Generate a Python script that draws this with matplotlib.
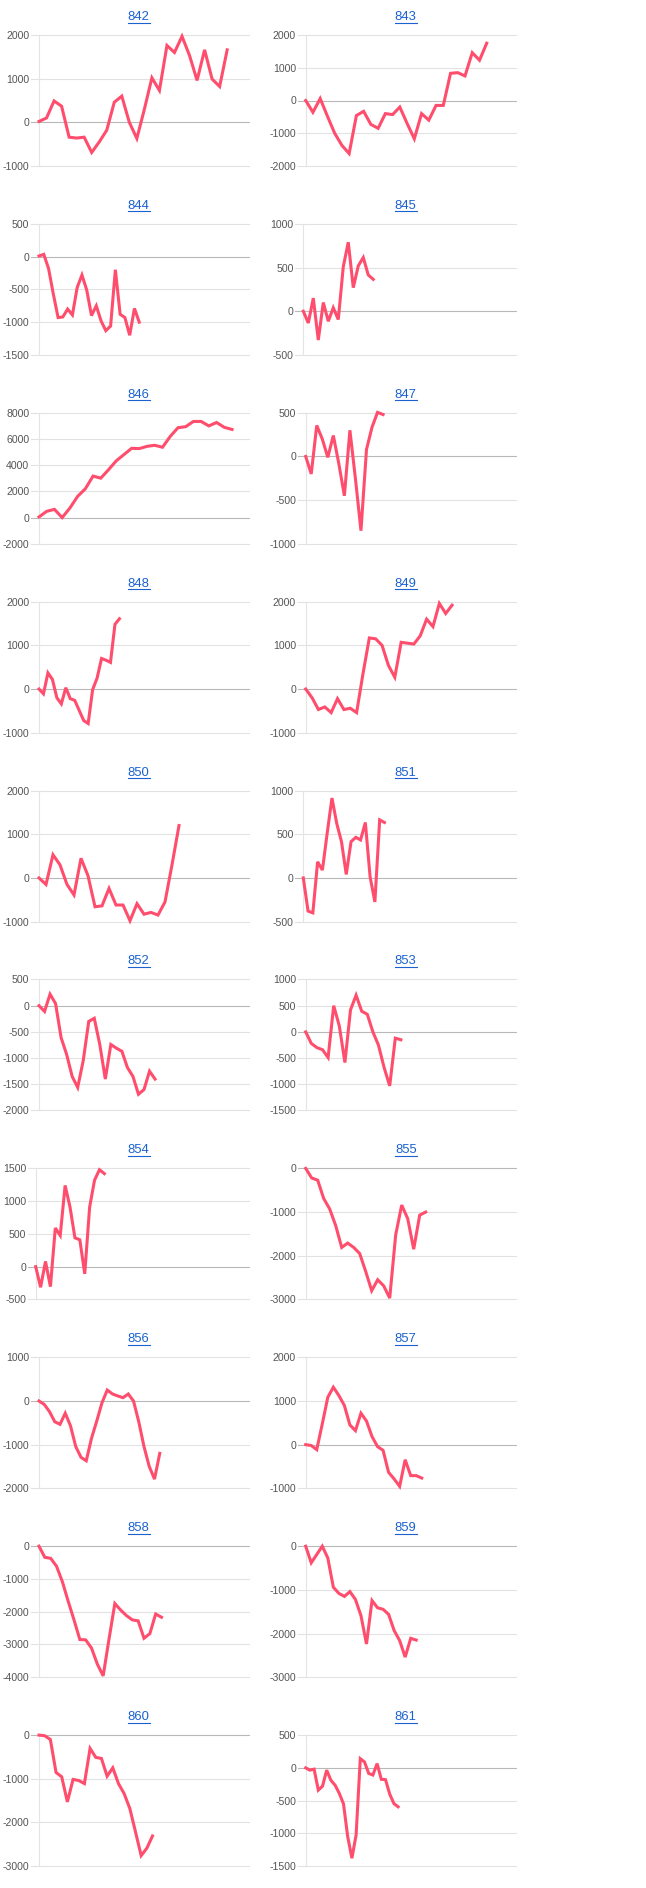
import matplotlib
matplotlib.use('Agg')
import matplotlib.pyplot as plt
from matplotlib.lines import Line2D

# panel titles
titles = ['842', '843', '844', '845', '846', '847', '848', '849', '850', '851',
          '852', '853', '854', '855', '856', '857', '858', '859', '860', '861']

# series values
s842 = [20, 100, 490, 370, -340, -360, -340, -690, -450, -180, 460, 600, 0, -370,
        300, 1020, 730, 1760, 1600, 1970, 1530, 960, 1660, 990, 820, 1660]
s843 = [0, -360, 60, -480, -1000, -1370, -1620, -460, -330, -730, -850, -400, -430,
        -200, -700, -1170, -400, -600, -150, -150, 830, 850, 750, 1460, 1230, 1750]
s844 = [10, 35, -180, -570, -930, -920, -800, -890, -470, -280, -510, -900, -750,
        -980, -1130, -1060, -200, -880, -930, -1200, -790, -1000]
s845 = [0, -135, 150, -330, 100, -115, 40, -95, 510, 790, 270, 520, 615, 415, 365]
s846 = [50, 480, 630, 0, 730, 1620, 2200, 3170, 3010, 3650, 4330, 4810, 5290, 5270,
        5440, 5520, 5370, 6200, 6860, 6940, 7340, 7340, 7000, 7260, 6890, 6730]
s847 = [0, -200, 355, 200, -10, 240, -85, -450, 300, -255, -850, 80, 335, 505, 480]
s848 = [0, -110, 370, 220, -200, -340, 30, -220, -260, -490, -720, -790, -15, 250,
        700, 660, 610, 1480, 1610]
s849 = [0, -200, -470, -410, -540, -220, -470, -440, -540, 350, 1170, 1150, 1000,
        540, 270, 1070, 1050, 1030, 1220, 1600, 1430, 1960, 1730, 1920]
s850 = [0, -150, 530, 300, -150, -390, 450, 50, -660, -640, -240, -620, -620, -980,
        -590, -830, -790, -850, -550, 300, 1200]
s851 = [0, -380, -400, 185, 90, 510, 915, 625, 415, 40, 415, 465, 435, 635, 10,
        -275, 665, 635]
s852 = [0, -110, 220, 40, -610, -930, -1350, -1560, -1050, -300, -240, -740, -1400,
        -740, -810, -870, -1180, -1350, -1690, -1600, -1250, -1400]
s853 = [0, -220, -300, -340, -490, 500, 115, -585, 420, 700, 395, 335, 0, -255,
        -680, -1030, -120, -150]
s854 = [0, -315, 80, -305, 590, 475, 1240, 910, 440, 410, -110, 910, 1320, 1480, 1420]
s855 = [0, -220, -270, -690, -930, -1310, -1810, -1710, -1810, -1950, -2360, -2800,
        -2550, -2690, -2970, -1520, -840, -1150, -1850, -1070, -1000]
s856 = [0, -80, -245, -475, -535, -280, -570, -1045, -1290, -1370, -855, -460, -40,
        250, 160, 115, 75, 160, 0, -475, -1045, -1500, -1790, -1200]
s857 = [0, -20, -115, 475, 1085, 1315, 1125, 895, 450, 320, 720, 540, 185, -45,
        -130, -635, -785, -955, -345, -710, -710, -765]
s858 = [0, -340, -370, -610, -1080, -1680, -2250, -2850, -2860, -3110, -3600, -3960,
        -2840, -1750, -1950, -2120, -2250, -2280, -2810, -2670, -2070, -2170]
s859 = [0, -380, -190, 0, -270, -940, -1080, -1150, -1040, -1220, -1590, -2240,
        -1245, -1410, -1445, -1560, -1930, -2160, -2540, -2110, -2150]
s860 = [0, -15, -100, -855, -955, -1530, -1015, -1040, -1110, -305, -510, -535, -940,
        -750, -1110, -1340, -1680, -2215, -2760, -2590, -2310]
s861 = [0, -35, -20, -340, -280, -35, -190, -265, -390, -550, -1050, -1380, -1025,
        140, 90, -85, -110, 65, -175, -180, -400, -545, -595]

series = [s842, s843, s844, s845, s846, s847, s848, s849, s850, s851,
          s852, s853, s854, s855, s856, s857, s858, s859, s860, s861]

# y axis: (min, max, step)
y_axes = [(-1000, 2000, 1000), (-2000, 2000, 1000), (-1500, 500, 500), (-500, 1000, 500),
          (-2000, 8000, 2000), (-1000, 500, 500), (-1000, 2000, 1000), (-1000, 2000, 1000),
          (-1000, 2000, 1000), (-500, 1000, 500), (-2000, 500, 500), (-1500, 1000, 500),
          (-500, 1500, 500), (-3000, 0, 1000), (-2000, 1000, 1000), (-1000, 2000, 1000),
          (-4000, 0, 1000), (-3000, 0, 1000), (-3000, 0, 1000), (-1500, 500, 500)]

# how many steps the horizontal axis holds in each panel
spans = [27.9, 29.0, 44, 42.5, 27.2, 38, 47, 33, 30, 44.5,
         38, 37.5, 43.5, 35, 40, 38, 36, 38, 37, 50]

W, H = 646, 1888
line_color = '#ff4d6d'
link_color = '#1a62d0'

fig = plt.figure(figsize=(W / 100, H / 100), dpi=100)
fig.patch.set_facecolor('white')

left_edge = {0: 39.0, 1: 305.7}
right_edge = {0: 249.0, 1: 515.7}
special_left = {'845': 303.3, '851': 303.3, '854': 35.7}
title_x = {0: 138.7, 1: 405.7}

title_texts = []
for i, (name, vals, (lo, hi, step), span) in enumerate(zip(titles, series, y_axes, spans)):
  row, col = divmod(i, 2)
  top = 35.0 + row * 188.9
  h = 131.0
  left = special_left.get(name, left_edge[col])
  w = right_edge[col] - left
  ax = fig.add_axes([left / W, 1 - (top + h) / H, w / W, h / H])
  ax.set_xlim(0, span)
  ax.set_ylim(lo, hi)
  for s in ['top', 'right', 'bottom']:
    ax.spines[s].set_visible(False)
  ax.spines['left'].set_color('#e4e4e4')
  ax.spines['left'].set_linewidth(0.8)
  ax.set_xticks([])
  ticks = list(range(lo, hi + 1, step))
  ax.set_yticks(ticks)
  ax.set_yticklabels([str(t) for t in ticks])
  ax.tick_params(axis='y', length=0, pad=9 * 0.72 + 0.5, labelsize=7.6,
                 labelcolor='#555555')
  for lab in ax.get_yticklabels():
    lab.set_fontfamily('Liberation Sans')
  ext = -8.0 / w
  for t in ticks:
    c = '#b8b8b8' if t == 0 else '#e2e2e2'
    ax.axhline(t, xmin=ext, xmax=1, color=c, lw=0.8, clip_on=False, zorder=1)
  ax.plot(range(len(vals)), vals, color=line_color, lw=2.2, clip_on=False,
          solid_joinstyle='miter', zorder=3)
  t = fig.text(title_x[col] / W, 1 - (top - 18.0) / H, name, ha='center', va='center',
               fontsize=9.4, color=link_color, family='Liberation Sans')
  title_texts.append(t)

# underline the titles like links
fig.canvas.draw()
r = fig.canvas.get_renderer()
for t in title_texts:
  bb = t.get_window_extent(r)
  y = bb.y0 + 0.5
  fig.add_artist(Line2D([bb.x0 / W, bb.x1 / W], [y / H, y / H],
                        transform=fig.transFigure, color=link_color, lw=0.8))

fig.savefig('out.png', dpi=100, facecolor='white')
